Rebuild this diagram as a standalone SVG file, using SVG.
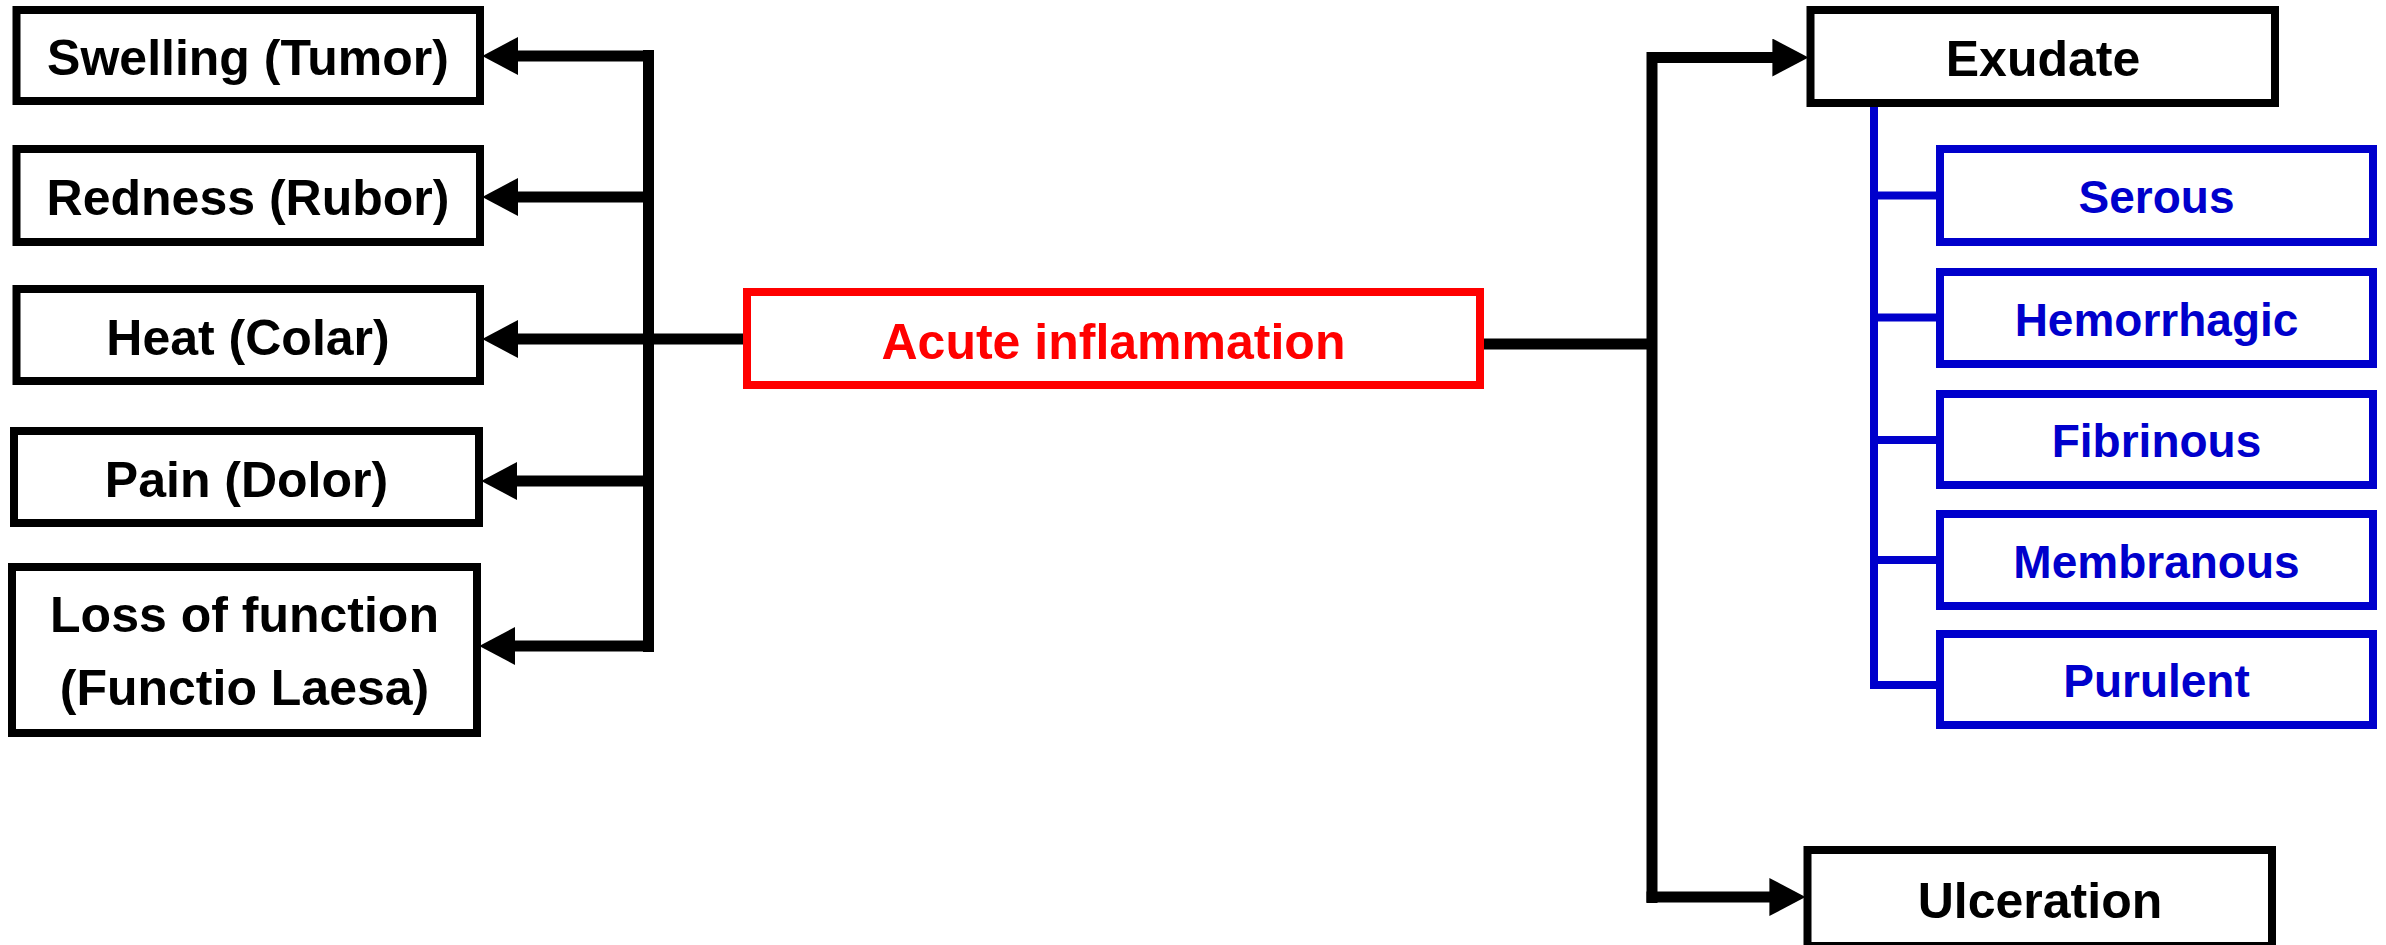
<svg xmlns="http://www.w3.org/2000/svg" width="2386" height="945" viewBox="0 0 2386 945">
<style>
.box{fill:#fff;stroke:#000;stroke-width:8}
.red{fill:#fff;stroke:#ff0000;stroke-width:8}
.blue{fill:#fff;stroke:#0000cc;stroke-width:8}
.t{font-family:"Liberation Sans",Arial,sans-serif;font-weight:bold;font-size:50px;text-anchor:middle;fill:#000}
.tr{fill:#ff0000}
.tb{font-size:46px;fill:#0000cc}
.c{stroke:#000;stroke-width:11;fill:none}
.cb{stroke:#0000cc;stroke-width:8;fill:none}
</style>
<defs>
<marker id="ah" markerUnits="userSpaceOnUse" markerWidth="36" markerHeight="38" refX="2" refY="18" orient="auto" viewBox="0 0 34 36">
<path d="M0,0 L34,18 L0,36 z" fill="#000"/>
</marker>
</defs>
<rect width="2386" height="945" fill="#fff"/>
<g id="connectors">
<line class="c" x1="648.5" y1="50" x2="648.5" y2="652"/>
<line class="c" x1="648.5" y1="56" x2="516" y2="56" marker-end="url(#ah)"/>
<line class="c" x1="648.5" y1="197" x2="516" y2="197" marker-end="url(#ah)"/>
<line class="c" x1="743" y1="339" x2="516" y2="339" marker-end="url(#ah)"/>
<line class="c" x1="648.5" y1="481" x2="515" y2="481" marker-end="url(#ah)"/>
<line class="c" x1="654" y1="646" x2="513" y2="646" marker-end="url(#ah)"/>
<line class="c" x1="1484" y1="344" x2="1652" y2="344"/>
<line class="c" x1="1652" y1="52" x2="1652" y2="903"/>
<line class="c" x1="1652" y1="57.5" x2="1774.5" y2="57.5" marker-end="url(#ah)"/>
<line class="c" x1="1646.5" y1="897" x2="1771.5" y2="897" marker-end="url(#ah)"/>
<line class="cb" x1="1874" y1="107" x2="1874" y2="689"/>
<line class="cb" x1="1874" y1="195.5" x2="1936" y2="195.5"/>
<line class="cb" x1="1874" y1="317.5" x2="1936" y2="317.5"/>
<line class="cb" x1="1874" y1="440" x2="1936" y2="440"/>
<line class="cb" x1="1874" y1="560" x2="1936" y2="560"/>
<line class="cb" x1="1870" y1="685" x2="1936" y2="685"/>
</g>
<g id="swelling"><rect class="box" x="16.5" y="10" width="463.5" height="91"/><text class="t" x="248" y="75">Swelling (Tumor)</text></g>
<g id="redness"><rect class="box" x="16.5" y="149" width="463.5" height="93"/><text class="t" x="248" y="215">Redness (Rubor)</text></g>
<g id="heat"><rect class="box" x="16.5" y="289" width="463.5" height="92"/><text class="t" x="248" y="354.5">Heat (Colar)</text></g>
<g id="pain"><rect class="box" x="14" y="431" width="465" height="92"/><text class="t" x="246.5" y="496.5">Pain (Dolor)</text></g>
<g id="loss"><rect class="box" x="12" y="567" width="465" height="166"/><text class="t" x="244.5" y="632">Loss of function</text><text class="t" x="244.5" y="705">(Functio Laesa)</text></g>
<g id="acute"><rect class="red" x="747" y="292" width="733" height="93"/><text class="t tr" x="1113.5" y="359">Acute inflammation</text></g>
<g id="exudate"><rect class="box" x="1810.5" y="10" width="464.5" height="93"/><text class="t" x="2043" y="76">Exudate</text></g>
<g id="serous"><rect class="blue" x="1940" y="149" width="433" height="93"/><text class="t tb" x="2156.5" y="213">Serous</text></g>
<g id="hemorrhagic"><rect class="blue" x="1940" y="272" width="433" height="92"/><text class="t tb" x="2156.5" y="335.5">Hemorrhagic</text></g>
<g id="fibrinous"><rect class="blue" x="1940" y="394" width="433" height="91"/><text class="t tb" x="2156.5" y="457">Fibrinous</text></g>
<g id="membranous"><rect class="blue" x="1940" y="514" width="433" height="92"/><text class="t tb" x="2156.5" y="577.5">Membranous</text></g>
<g id="purulent"><rect class="blue" x="1940" y="634" width="433" height="91"/><text class="t tb" x="2156.5" y="697">Purulent</text></g>
<g id="ulceration"><rect class="box" x="1807.5" y="850" width="464.5" height="96"/><text class="t" x="2040" y="918">Ulceration</text></g>
</svg>
